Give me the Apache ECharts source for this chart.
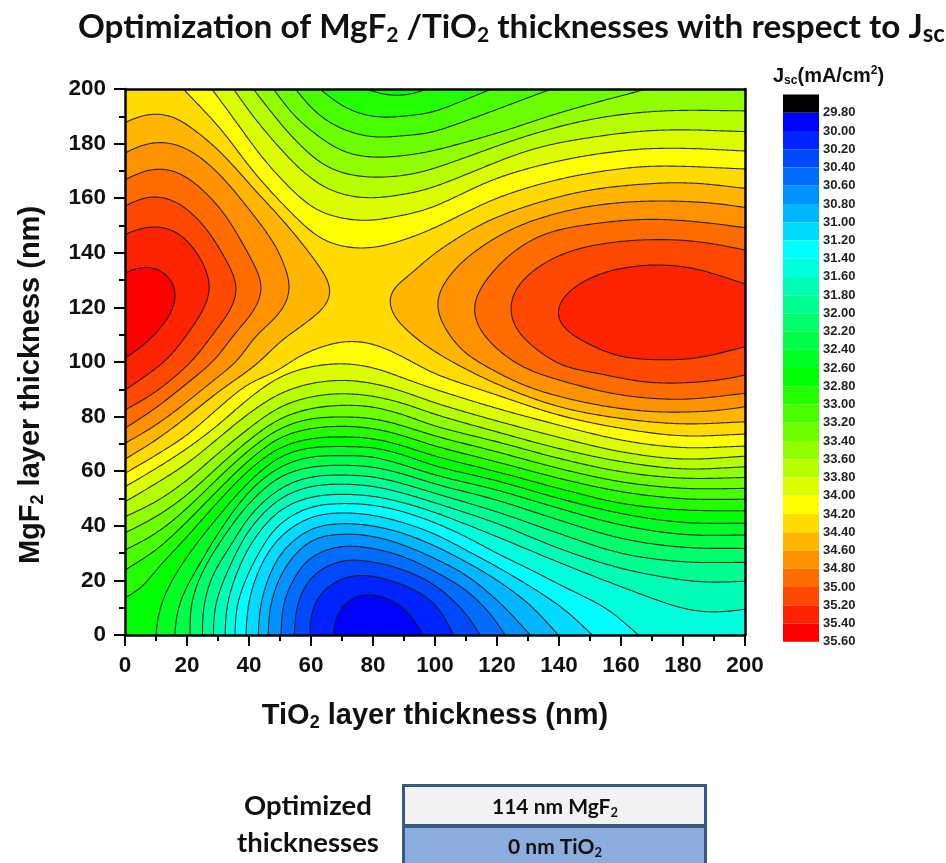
<!DOCTYPE html>
<html><head><meta charset="utf-8">
<style>html,body{margin:0;padding:0;background:#fff}#c{width:946px;height:863px}</style>
<script src="https://cdn.jsdelivr.net/npm/echarts@6/dist/echarts.min.js"></script>
</head><body><div id="c"></div>
<script>
// Tick labels
const xTicks = [0,20,40,60,80,100,120,140,160,180,200];
const yTicks = [0,20,40,60,80,100,120,140,160,180,200];
// Colour scale: band edges (mA/cm2) and band colours
const bandEdges = [29.6,29.8,30.0,30.2,30.4,30.6,30.8,31.0,31.2,31.4,31.6,31.8,32.0,32.2,32.4,32.6,32.8,33.0,33.2,33.4,33.6,33.8,34.0,34.2,34.4,34.6,34.8,35.0,35.2,35.4,35.6];
const bandColors = ['#000000','#0000ff','#0024ff','#0049ff','#006dff','#0092ff','#00b6ff','#00dbff','#00ffff','#00ffdb','#00ffb6','#00ff92','#00ff6d','#00ff49','#00ff24','#00ff00','#24ff00','#49ff00','#6dff00','#92ff00','#b6ff00','#dbff00','#ffff00','#ffdb00','#ffb600','#ff9200','#ff6d00','#ff4900','#ff2400','#ff0000'];
// Iso-Jsc lines: [TiO2 nm, MgF2 nm]
const c30_0=[[67.2,0],[68.3,7.9],[73.7,14.2],[80,15],[87.6,12],[93,6.1],[96.2,0]];
const c30_2=[[59.7,0],[60.2,9.1],[65.1,17.7],[73.7,22],[80,21.6],[90,18.3],[100,11.6],[106,0]];
const c30_4=[[54.6,0],[55.4,10.4],[60,21.3],[70,27.4],[80,26.8],[90,23.8],[100,18.3],[110,7.9],[114.5,0]];
const c30_6=[[50.3,0],[51.1,11.6],[55.4,22.6],[60,28.7],[70,32.7],[80,31.7],[90,28.7],[100,23.2],[110,16.5],[117.8,7.9],[122.6,0]];
const c30_8=[[46.2,0],[46.8,10.4],[51.1,23.8],[60,34.8],[70,37],[80,36.2],[90,32.9],[100,28],[110,22],[120,12.8],[127.4,4.2],[130.7,0]];
const c31_0=[[43,0],[43.6,10.4],[46.8,22.6],[51.1,31.1],[60,39],[70,40.9],[80,40],[90,37.2],[100,32.6],[110,26.8],[120,20.1],[130.7,11],[139.8,0]];
const c31_2=[[39,0],[39.8,11.6],[43.6,25],[50,36],[60,43.3],[70,44.8],[80,43.9],[90,41.1],[100,37],[110,31.1],[120,25],[130,18.3],[141.4,9.7],[150.8,0]];
const c31_4=[[35.5,0],[36,10.4],[39.3,21.3],[44.6,32.9],[50,40.9],[60,47],[70,48.2],[80,47.6],[90,45.1],[100,41.1],[110,36],[120,29.9],[130,24.4],[143.6,16.5],[155.4,9.7],[165.6,0]];
const c31_6=[[32.3,0],[32.8,10.4],[36,22.6],[41.4,34.8],[50,45.8],[60,50.6],[70,51.6],[80,50.9],[90,48.4],[100,44.9],[120,36],[140,26.6],[160,17.7],[180,9.7],[190,8.3],[200,9.4]];
const c31_8=[[28.5,0],[29,10.4],[32.3,21.3],[40,38.4],[50,50],[60,54.5],[70,55.3],[80,54.5],[90,51.9],[100,48.4],[120,40.9],[140,31.7],[160,24.4],[180,20.1],[190,19.3],[200,19.7]];
const c32_0=[[25,0],[25.3,10.4],[28.5,22.6],[33.9,32.3],[40,43.3],[50,53.7],[60,58],[70,58.6],[80,58],[90,55.3],[100,51.9],[120,45.1],[140,37.2],[160,29.9],[180,26.8],[200,26.6]];
const c32_2=[[21,0],[21.2,10.4],[24.2,21.3],[30,32.9],[40,48.2],[50,58],[60,61.6],[70,62.2],[80,61.6],[90,58.9],[100,55.3],[120,49.4],[140,42.1],[160,35.4],[180,32.1],[200,31.7]];
const c32_4=[[16.1,0],[16.7,7.9],[18.8,15.2],[24.2,26.2],[30,37.2],[40,52.5],[50,61.6],[60,65.3],[70,65.7],[80,65.3],[90,62.2],[100,58.6],[120,53.1],[140,46.4],[160,40.3],[180,36.8],[200,36.6]];
const c32_6=[[10,0],[10.8,7.9],[13.5,16.5],[20,28.7],[30,43.3],[40,56.1],[50,65.3],[60,68.7],[70,69],[80,68.7],[90,65.9],[100,61.9],[120,56.5],[140,50],[160,44.5],[180,41.2],[200,40.9]];
const c32_8=[[0,13.8],[4.8,16.5],[10,23.8],[20,36],[30,48.8],[40,60.4],[50,68.7],[60,72],[70,72.6],[80,72],[90,69.2],[100,65.5],[120,59.8],[140,53.7],[160,48.2],[180,45.8],[200,45.5]];
const c33_0=[[0,23.8],[10,31.1],[20,41.5],[30,53.1],[40,64],[50,72.4],[60,75.7],[70,76.5],[80,75.7],[90,72.9],[100,69.2],[120,63.4],[140,57.4],[160,52.5],[180,49.9],[200,49.7]];
const c33_2=[[0,31.1],[10,37.2],[20,46.4],[30,57.4],[40,67.7],[50,75.7],[60,79.3],[70,79.9],[80,79.3],[90,76.5],[100,72.9],[120,67.1],[140,61],[160,56.1],[180,53.7],[200,53.7]];
const c33_4=[[0,37.4],[10,43.3],[20,51.3],[30,61.6],[40,71.4],[50,79.3],[60,83],[70,84.2],[80,83.6],[90,80.6],[100,76.5],[120,70.8],[140,64.7],[160,59.8],[180,57.4],[200,57.7]];
const c33_6=[[0,43.3],[10,48.8],[20,56.7],[30,66.5],[40,75.7],[50,83.6],[60,87.3],[70,88.5],[80,87.5],[90,84.8],[100,80.8],[120,74.4],[140,68.3],[160,63.5],[180,60.8],[200,61.6]];
const c33_8=[[0,48.8],[10,55.5],[20,62.8],[30,72],[40,81.2],[50,88.5],[60,92.2],[70,93.4],[80,92.2],[90,89.1],[100,85],[120,78.4],[140,72.4],[160,67.1],[180,64.4],[200,65.5]];
const c34_0=[[0,54.3],[10,61],[20,68.3],[30,76.9],[40,86.7],[50,94.6],[60,98.3],[70,99.5],[80,98],[90,94],[100,90],[120,83],[140,76.9],[160,71.4],[180,68.6],[200,69.2]];
const c34_2=[[0,59.2],[10,65.9],[20,73.2],[30,83],[40,92.2],[50,97],[53,100],[61.8,105],[72.6,107.8],[82.3,105.8],[94,99.2],[100,95.6],[120,87.9],[140,80.5],[160,75.7],[180,72.9],[200,73.6]];
// Upper valley lines, left to right
const t32_8=[[78,200],[83.3,197.8],[87.6,197.5],[93,198.1],[97.3,200]];
const t33_0=[[62.9,200],[69.4,194.2],[76.9,190.5],[84.4,189.5],[93,190.5],[98.4,191.1],[118.3,200]];
const t33_2=[[54.9,200],[61.8,191.1],[69.4,185.6],[78,182.6],[83.3,182.2],[92,183.2],[98.4,183.8],[137.6,200]];
const t33_4=[[47.9,200],[54.3,190.5],[61.8,183.2],[70.4,177],[80.1,174.9],[89.8,175.6],[98.4,177.1],[119.9,183.8],[141.4,191.7],[168.3,200]];
const t33_6=[[41.4,200],[47.9,190.5],[55.4,180.7],[64,172.2],[72.6,168.5],[82.3,167.6],[90.9,168.5],[98.4,170.4],[130.7,183.2],[152.2,189.3],[173.7,192],[200,192]];
const t33_8=[[35,200],[41.4,189.9],[50,178.3],[58.6,168.5],[67.2,162.4],[78,160],[88.7,161.2],[98.4,163.6],[130.7,177.7],[152.2,182.6],[173.7,185],[200,184.4]];
const t34_0=[[28,200],[35,189.3],[43.6,175.9],[52.2,164.9],[60.8,156.3],[68.3,153],[78,151.7],[87.6,153.3],[98.4,156.3],[119.9,167.3],[141.4,174],[162.9,177.7],[179,178.3],[200,177.3]];
const t34_2=[[18.8,200],[30.7,185.6],[41.4,169.8],[52.2,156.3],[62.9,145.3],[71.5,142],[79,141.7],[86.6,143.5],[98.4,148.4],[119.9,160],[141.4,167.3],[162.9,171.2],[175.8,171.8],[200,170.7]];
// Left optimum lobe
const l34_4=[[0,187.5],[3.8,189.9],[9.2,191.1],[14.5,190.5],[21,186.2],[30.7,177],[41.4,163.6],[52.2,150.2],[60.8,138],[65.8,129.5],[66.9,125.8],[65.2,120.9],[57.5,113.6],[50,107.5],[43.6,100.2],[40,97],[30,89],[20,79.9],[10,71.4],[0,64.4]];
const l34_6=[[0,176.5],[5.9,179.8],[12.4,180.7],[19.9,178.3],[29.6,169.8],[41.4,153.9],[49,141.7],[53.2,129.5],[53.4,125.8],[50.5,118.5],[41.4,108.7],[36.6,100.7],[30,94.6],[20,85.4],[10,76.9],[0,70.2]];
const l34_8=[[0,166.7],[5.9,170],[12.4,171],[19.9,167.9],[30.7,156.3],[38.2,142.9],[44.2,129.5],[44.4,125.8],[41.5,118.5],[35,109.9],[29,100.8],[20,92.2],[10,83.2],[0,75.7]];
const l35_0=[[0,156.9],[4.8,160],[10.2,160.8],[16.7,158.8],[25.3,150.2],[31.7,139.2],[36,129.5],[36.4,125.8],[33.8,118.5],[28.5,110.5],[22,100.8],[10,89.1],[0,82.4]];
const l35_2=[[0,146.6],[4.8,149],[10.2,149.9],[16.7,147.8],[23.1,140.4],[27.2,130.7],[27.6,125.8],[25,118.5],[19.9,109.9],[13.5,100.8],[7,95.2],[0,89.7]];
const l35_4=[[0,132.5],[3.8,134.6],[8,135.4],[13.2,132.5],[16.6,127],[15.3,118.5],[10.4,111.1],[4.8,105],[0,101.4]];
// Right optimum lobe
const r34_4=[[200,163.6],[184.4,165.5],[171.5,165.5],[150,163],[130.7,157.5],[114.5,150.2],[98.4,138.6],[92.6,132.5],[86.3,127],[84.7,123.4],[86.3,117.3],[92.6,109.9],[101.6,102.6],[120,91.9],[140,83.6],[160,79.3],[180,77.3],[200,78.1]];
const r34_6=[[200,156.6],[189.8,158.2],[173.7,159],[157.5,158.2],[141.4,155.1],[125.3,149],[111.3,139.2],[103.2,129.5],[100.3,120.9],[103.2,112.4],[108,105],[112.9,100.7],[130,90.9],[150,84.8],[170,81.8],[190,82.1],[200,83.6]];
const r34_8=[[200,149.2],[184.4,151.4],[168.3,152.3],[152.2,150.8],[136,147.2],[125.3,140.4],[116.1,129.5],[112.2,119.7],[115.6,109.9],[126.9,99],[140,93.4],[160,87.9],[180,86.3],[200,88.5]];
const r35_0=[[200,141],[190.9,143.1],[179,144.7],[162.9,144.5],[146.8,141.7],[136,136.8],[126.8,128.2],[124,119],[127.5,109.9],[140.3,99],[150,96.4],[170,92.4],[190,93.1],[200,95.2]];
const r35_2=[[200,128.6],[184.4,134.1],[173.7,135.6],[162.9,134.9],[152.2,131.9],[143,125.8],[138.8,117.9],[142,111.8],[150,106.3],[159.7,102],[171.5,100.8],[184.4,101.4],[200,105.6]];

const rev = a => a.slice().reverse();
const BL=[0,0], BR=[200,0], TR=[200,200], TL=[0,200];
// Each region is the area at or above `level`: lines (stroked) and plot corners (not stroked) in path order
const regions = [
 {level:30.0,parts:[c30_0,{c:[BR,TR,TL,BL]}]},
 {level:30.2,parts:[c30_2,{c:[BR,TR,TL,BL]}]},
 {level:30.4,parts:[c30_4,{c:[BR,TR,TL,BL]}]},
 {level:30.6,parts:[c30_6,{c:[BR,TR,TL,BL]}]},
 {level:30.8,parts:[c30_8,{c:[BR,TR,TL,BL]}]},
 {level:31.0,parts:[c31_0,{c:[BR,TR,TL,BL]}]},
 {level:31.2,parts:[c31_2,{c:[BR,TR,TL,BL]}]},
 {level:31.4,parts:[c31_4,{c:[BR,TR,TL,BL]}]},
 {level:31.6,parts:[c31_6,{c:[TR,TL,BL]}]},
 {level:31.8,parts:[c31_8,{c:[TR,TL,BL]}]},
 {level:32.0,parts:[c32_0,{c:[TR,TL,BL]}]},
 {level:32.2,parts:[c32_2,{c:[TR,TL,BL]}]},
 {level:32.4,parts:[c32_4,{c:[TR,TL,BL]}]},
 {level:32.6,parts:[c32_6,{c:[TR,TL,BL]}]},
 {level:32.8,parts:[c32_8,{c:[TR]},rev(t32_8),{c:[TL]}]},
 {level:33.0,parts:[c33_0,{c:[TR]},rev(t33_0),{c:[TL]}]},
 {level:33.2,parts:[c33_2,{c:[TR]},rev(t33_2),{c:[TL]}]},
 {level:33.4,parts:[c33_4,{c:[TR]},rev(t33_4),{c:[TL]}]},
 {level:33.6,parts:[c33_6,rev(t33_6),{c:[TL]}]},
 {level:33.8,parts:[c33_8,rev(t33_8),{c:[TL]}]},
 {level:34.0,parts:[c34_0,rev(t34_0),{c:[TL]}]},
 {level:34.2,parts:[c34_2,rev(t34_2),{c:[TL]}]},
 {level:34.4,parts:[l34_4]},{level:34.4,parts:[r34_4]},
 {level:34.6,parts:[l34_6]},{level:34.6,parts:[r34_6]},
 {level:34.8,parts:[l34_8]},{level:34.8,parts:[r34_8]},
 {level:35.0,parts:[l35_0]},{level:35.0,parts:[r35_0]},
 {level:35.2,parts:[l35_2]},{level:35.2,parts:[r35_2]},
 {level:35.4,parts:[l35_4]}
];
const tableRows = [['114 nm MgF','2'],['0 nm TiO','2']];

const colorFor = L => bandColors[bandEdges.findIndex(e => Math.abs(e-L)<1e-6)];
function spline(p){
  const n=p.length, out=[]; if(n<3) return p.slice();
  const d=[]; for(let i=0;i<n-1;i++) d.push(Math.hypot(p[i+1][0]-p[i][0],p[i+1][1]-p[i][1])||1e-6);
  const t=[]; for(let i=0;i<n;i++){
    if(i===0) t.push([(p[1][0]-p[0][0])/d[0],(p[1][1]-p[0][1])/d[0]]);
    else if(i===n-1) t.push([(p[i][0]-p[i-1][0])/d[i-1],(p[i][1]-p[i-1][1])/d[i-1]]);
    else t.push([(p[i+1][0]-p[i-1][0])/(d[i-1]+d[i]),(p[i+1][1]-p[i-1][1])/(d[i-1]+d[i])]);
  }
  for(let i=0;i<n-1;i++){
    const a=p[i],b=p[i+1],k=d[i]/3;
    const c1=[a[0]+t[i][0]*k,a[1]+t[i][1]*k],c2=[b[0]-t[i+1][0]*k,b[1]-t[i+1][1]*k];
    for(let s=0;s<10;s++){const u=s/10,v=1-u;
      out.push([v*v*v*a[0]+3*v*v*u*c1[0]+3*v*u*u*c2[0]+u*u*u*b[0],v*v*v*a[1]+3*v*v*u*c1[1]+3*v*u*u*c2[1]+u*u*u*b[1]]);}
  }
  out.push(p[n-1]); return out;
}
// Even out the hand-reading jitter along the drawn curve
function fair(p){
  const step=2, u=[p[0]]; let carry=0;
  for(let i=1;i<p.length;i++){
    const a=p[i-1],b=p[i],d=Math.hypot(b[0]-a[0],b[1]-a[1]); if(d===0) continue;
    let s=step-carry;
    while(s<=d){u.push([a[0]+(b[0]-a[0])*s/d,a[1]+(b[1]-a[1])*s/d]); s+=step;}
    carry=d-(s-step);
  }
  u.push(p[p.length-1]);
  let q=u;
  for(let pass=0;pass<2;pass++){
    const r=[];
    for(let i=0;i<q.length;i++){
      const w=Math.min(6,i,q.length-1-i); let x=0,y=0;
      for(let j=-w;j<=w;j++){x+=q[i+j][0];y+=q[i+j][1];}
      r.push([x/(2*w+1),y/(2*w+1)]);
    }
    q=r;
  }
  return q;
}
function renderRegion(params,api){
  const r=regions[params.dataIndex], poly=[], kids=[], strokes=[];
  r.parts.forEach(part=>{
    if(part.c){ part.c.forEach(q=>poly.push(api.coord(q))); }
    else { const s=fair(spline(part.map(q=>api.coord(q)))); s.forEach(q=>poly.push(q)); strokes.push(s); }
  });
  kids.push({type:'polygon',shape:{points:poly},style:{fill:colorFor(r.level),stroke:null}});
  strokes.forEach(s=>kids.push({type:'polyline',shape:{points:s},style:{fill:null,stroke:'#141414',lineWidth:1.1,opacity:0.88}}));
  return {type:'group',children:kids};
}
const bands = bandColors.map((c,i)=>[bandEdges[i],bandEdges[i+1],i]);
const SANS='"Liberation Sans",Arial,sans-serif', CAL='Lato,"Open Sans",sans-serif';
const axisNameRich={a:{fontFamily:SANS,fontWeight:'bold',fontSize:29,color:'#111',lineHeight:32},
  s:{fontFamily:SANS,fontWeight:'bold',fontSize:18,color:'#111',verticalAlign:'bottom',lineHeight:18,padding:[17,0,0,0]}};
const chart=echarts.init(document.getElementById('c'),null,{renderer:'canvas'});
const commonX={type:'value',min:0,max:200,interval:20};
chart.setOption({
  animation:false,backgroundColor:'#fff',
  grid:[{left:125,top:89,width:620,height:546},{left:783,top:94.5,width:36,height:547.2}],
  xAxis:[
   {...commonX,gridIndex:0,z:10,splitLine:{show:false},name:'{a|TiO}{s|2}{a| layer thickness (nm)}',nameLocation:'middle',nameGap:65,
    nameTextStyle:{rich:axisNameRich},
    axisLine:{onZero:false,lineStyle:{color:'#000',width:2.5}},axisTick:{length:11,lineStyle:{color:'#000',width:2}},
    minorTick:{show:true,splitNumber:2,length:6,lineStyle:{color:'#000',width:2}},
    axisLabel:{margin:19,fontFamily:SANS,fontWeight:'bold',fontSize:22.5,color:'#111',formatter:v=>xTicks.includes(v)?String(v):''}},
   {...commonX,gridIndex:0,position:'top',z:10,splitLine:{show:false},axisLine:{onZero:false,lineStyle:{color:'#000',width:2.5}},axisTick:{show:false},axisLabel:{show:false}},
   {type:'value',gridIndex:1,min:0,max:1,show:false}
  ],
  yAxis:[
   {...commonX,gridIndex:0,z:10,splitLine:{show:false},name:'{a|MgF}{s|2}{a| layer thickness (nm)}',nameLocation:'middle',nameGap:78,nameRotate:90,
    nameTextStyle:{rich:axisNameRich,padding:[0,46,0,0]},
    axisLine:{onZero:false,lineStyle:{color:'#000',width:2.5}},axisTick:{length:11,lineStyle:{color:'#000',width:2}},
    minorTick:{show:true,splitNumber:2,length:6,lineStyle:{color:'#000',width:2}},
    axisLabel:{margin:19,fontFamily:SANS,fontWeight:'bold',fontSize:22.5,color:'#111',formatter:v=>yTicks.includes(v)?String(v):''}},
   {...commonX,gridIndex:0,position:'right',z:10,splitLine:{show:false},axisLine:{onZero:false,lineStyle:{color:'#000',width:2.5}},axisTick:{show:false},axisLabel:{show:false}},
   {type:'value',gridIndex:1,min:29.6,max:35.6,interval:0.2,inverse:true,position:'right',splitLine:{show:false},axisLine:{show:false},axisTick:{show:false},
    axisLabel:{margin:4,fontFamily:SANS,fontWeight:'bold',fontSize:13,color:'#222',formatter:v=>v<29.7?'':v.toFixed(2),showMinLabel:true,showMaxLabel:true}}
  ],
  series:[
   {type:'custom',xAxisIndex:0,yAxisIndex:0,coordinateSystem:'cartesian2d',clip:true,silent:true,z:2,
    data:regions.map((r,i)=>[i]),encode:{x:[],y:[]},renderItem:renderRegion},
   {type:'custom',xAxisIndex:2,yAxisIndex:2,coordinateSystem:'cartesian2d',silent:true,z:2,
    data:bands,encode:{y:[0,1]},renderItem(params,api){
      const a=api.coord([0,api.value(0)]),b=api.coord([1,api.value(1)]);
      return {type:'rect',shape:{x:a[0],y:a[1],width:b[0]-a[0],height:b[1]-a[1]},style:{fill:bandColors[api.value(2)]}};
    }}
  ],
  graphic:{elements:[
   {type:'rect',z:1,shape:{x:125,y:89,width:620,height:546},style:{fill:'#0000ff'},silent:true},
   {type:'text',z:20,style:{x:78,y:27,verticalAlign:'middle',text:'{a|Optimization of MgF}{s|2}{a| /TiO}{s|2}{a| thicknesses with respect to J}{t|sc}',
     rich:{a:{fontFamily:CAL,fontWeight:'bold',fontSize:33.3,fill:'#111',lineHeight:38},s:{fontFamily:CAL,fontWeight:'bold',fontSize:21,fill:'#111',verticalAlign:'bottom',lineHeight:21,padding:[22,0,0,0]},t:{fontFamily:CAL,fontWeight:'bold',fontSize:24,fill:'#111',verticalAlign:'bottom',lineHeight:24,padding:[20,0,0,0]}}}},
   {type:'text',z:20,style:{x:773,y:76,verticalAlign:'middle',text:'{a|J}{s|sc}{a|(mA/cm}{u|2}{a|)}',
     rich:{a:{fontFamily:SANS,fontWeight:'bold',fontSize:20,fill:'#111',lineHeight:22},s:{fontFamily:SANS,fontWeight:'bold',fontSize:12,fill:'#111',verticalAlign:'bottom',lineHeight:12,padding:[11,0,0,0]},u:{fontFamily:SANS,fontWeight:'bold',fontSize:12,fill:'#111',verticalAlign:'top',lineHeight:12,padding:[0,0,11,0]}}}},
   {type:'text',z:20,style:{x:308,y:806,align:'center',verticalAlign:'middle',text:'Optimized',fontFamily:CAL,fontWeight:'bold',fontSize:27.5,fill:'#111'}},
   {type:'text',z:20,style:{x:308,y:843,align:'center',verticalAlign:'middle',text:'thicknesses',fontFamily:CAL,fontWeight:'bold',fontSize:27.5,fill:'#111'}},
   {type:'rect',z:20,shape:{x:403.5,y:785.5,width:302,height:40},style:{fill:'#f2f2f2',stroke:'#38597f',lineWidth:3}},
   {type:'rect',z:20,shape:{x:403.5,y:826.5,width:302,height:50},style:{fill:'#8cadde',stroke:'#38597f',lineWidth:3}},
   ...tableRows.map((r,i)=>({type:'text',z:21,style:{x:555,y:[807,847][i],align:'center',verticalAlign:'middle',text:'{a|'+r[0]+'}{s|'+r[1]+'}',
     rich:{a:{fontFamily:CAL,fontWeight:'bold',fontSize:21,fill:'#111',lineHeight:24},s:{fontFamily:CAL,fontWeight:'bold',fontSize:13,fill:'#111',verticalAlign:'bottom',lineHeight:13,padding:[9,0,0,0]}}}}))
  ]}
});
</script></body></html>
